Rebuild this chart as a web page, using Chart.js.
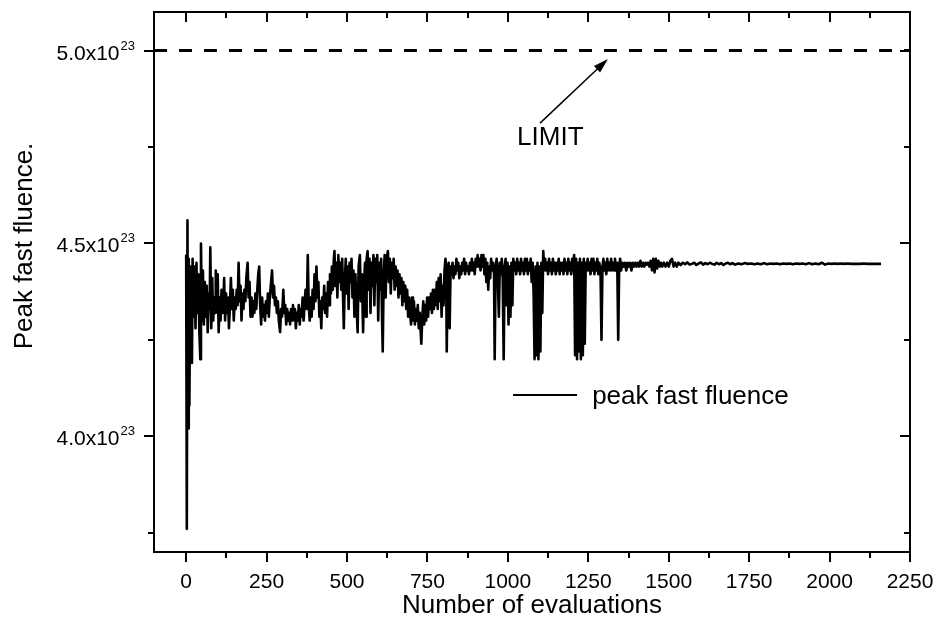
<!DOCTYPE html>
<html>
<head>
<meta charset="utf-8">
<script src="https://cdn.jsdelivr.net/npm/chart.js@4.4.1/dist/chart.umd.min.js"></script>
<style>
  html, body { margin: 0; padding: 0; background: #fff; }
  #chart { display: block; }
</style>
</head>
<body>
<canvas id="chart" width="935" height="621"></canvas>
<script>
// values in units of 1e23
// search phase (wide scatter)
const evalsEarly = [
  0,2,4,6,8,10,13,16,18,20,23,26,29,32,35,38,41,44,46,49,
  52,55,58,61,64,67,70,73,75,78,81,84,87,90,92,95,98,101,104,107,
  110,113,116,118,121,124,127,130,133,136,139,142,145,148,151,154,157,160,163,166,
  169,172,175,178,181,184,187,191,194,197,200,203,206,209,212,215,218,221,224,227,
  230,233,236,239,242,245,248,251,254,257,260,263,267,270,273,276,279,282,285,288,
  292,295,298,302,305,308,311,314,317,320,323,326,329,332,335,338,341,344,347,350,
  353,356,359,362,365,368,371,375,378,381,384,387,390,393,396,399,402,405,408,411,
  414,417,420,423,426,429,432,435,438,441,444,447,450,453,456,459,461,464,467,470,
  473,476,479,482,485,488,490,493,496,499,502,505,508,511,514,517,520,523,526,529,
  533,536,540,543,546,550,553,556,559,561,564,567,570,573,576,579,582,585,588,591,
  594,597,600,603,606,609,611,614,617,620,623,627,630,633,636,639,642,645,648,651,
  654,657,660,663,666,669,672,675,678,681,684,687,690,693,696,699,702,705,708,711,
  714,717,720,723,726,729,731,734,737,740,743,746,749,752,755,758,761,764,767,770,
  773,776,779,782,785,788,791,794,797,800,803,806,808,810,813,816,819,822
];
const fluenceEarly = [
  4.47,3.76,4.56,4.02,4.46,4.08,4.44,4.30,4.19,4.46,4.31,4.44,4.28,4.45,4.32,4.42,4.27,4.20,4.50,4.30,
  4.43,4.29,4.40,4.31,4.39,4.27,4.37,4.33,4.49,4.28,4.41,4.30,4.36,4.32,4.43,4.33,4.42,4.27,4.36,4.30,
  4.38,4.32,4.35,4.41,4.30,4.37,4.32,4.36,4.28,4.34,4.41,4.33,4.38,4.30,4.36,4.33,4.38,4.34,4.45,4.35,
  4.39,4.30,4.37,4.33,4.38,4.35,4.41,4.45,4.36,4.40,4.31,4.36,4.31,4.35,4.32,4.37,4.33,4.38,4.42,4.44,
  4.34,4.29,4.36,4.31,4.34,4.30,4.35,4.32,4.37,4.31,4.36,4.39,4.43,4.36,4.39,4.34,4.36,4.32,4.35,4.30,
  4.27,4.33,4.31,4.38,4.32,4.34,4.29,4.33,4.30,4.32,4.29,4.33,4.30,4.34,4.31,4.33,4.28,4.32,4.30,4.34,
  4.29,4.33,4.31,4.36,4.30,4.34,4.38,4.33,4.47,4.34,4.30,4.36,4.31,4.38,4.33,4.42,4.35,4.44,4.36,4.40,
  4.31,4.35,4.28,4.36,4.33,4.39,4.32,4.37,4.31,4.40,4.34,4.42,4.37,4.44,4.38,4.46,4.48,4.39,4.45,4.36,
  4.47,4.40,4.45,4.38,4.46,4.35,4.28,4.40,4.46,4.37,4.44,4.33,4.45,4.40,4.46,4.36,4.43,4.31,4.42,4.35,
  4.27,4.44,4.47,4.35,4.42,4.27,4.40,4.45,4.31,4.46,4.48,4.38,4.46,4.32,4.45,4.39,4.47,4.34,4.46,4.40,
  4.47,4.30,4.45,4.38,4.46,4.30,4.22,4.42,4.47,4.36,4.46,4.48,4.40,4.46,4.37,4.45,4.41,4.46,4.38,4.44,
  4.39,4.43,4.36,4.42,4.37,4.41,4.34,4.40,4.35,4.39,4.33,4.38,4.31,4.36,4.32,4.29,4.36,4.30,4.35,4.29,
  4.33,4.30,4.34,4.28,4.32,4.27,4.24,4.31,4.35,4.29,4.34,4.30,4.36,4.31,4.36,4.33,4.37,4.32,4.38,4.33,
  4.38,4.34,4.40,4.33,4.41,4.35,4.42,4.31,4.39,4.34,4.43,4.46,4.44,4.22,4.43,4.45,4.28,4.44
];
// settling phase (narrow band with drops)
const evalsMiddle = [
  825,828,831,834,837,840,843,846,849,852,855,858,861,864,867,870,873,876,879,882,
  885,888,891,894,897,900,903,906,909,912,915,918,921,924,927,930,933,936,939,942,
  945,948,951,954,957,959,962,965,968,972,975,978,981,984,987,990,993,996,999,1002,
  1005,1008,1011,1014,1017,1020,1023,1026,1029,1032,1035,1038,1041,1044,1047,1050,1053,1056,1059,1062,
  1065,1068,1071,1074,1077,1080,1083,1086,1089,1092,1095,1098,1101,1104,1107,1110,1113,1116,1119,1122,
  1125,1128,1131,1134,1137,1140,1143,1146,1149,1152,1155,1158,1161,1164,1167,1170,1173,1176,1179,1182,
  1185,1188,1191,1194,1197,1200,1203,1206,1209,1212,1215,1218,1221,1224,1227,1230,1233,1236,1239,1242,
  1245,1248,1251,1254,1257,1260,1263,1266,1269,1272,1275,1278,1281,1284,1288,1291,1294,1297,1300,1303,
  1306,1309,1312,1315,1318,1321,1324,1327,1330,1333,1336,1340,1343,1346,1349,1352,1356,1360,1364,1368,
  1372,1376,1380,1384,1388,1392,1396,1400
];
const fluenceMiddle = [
  4.42,4.45,4.41,4.44,4.42,4.46,4.43,4.45,4.41,4.44,4.42,4.45,4.43,4.46,4.42,4.45,4.43,4.44,4.42,4.45,
  4.43,4.46,4.43,4.45,4.42,4.46,4.44,4.47,4.44,4.46,4.43,4.47,4.44,4.47,4.42,4.46,4.40,4.45,4.38,4.44,
  4.41,4.46,4.43,4.45,4.42,4.20,4.44,4.46,4.43,4.31,4.45,4.42,4.46,4.41,4.20,4.44,4.46,4.34,4.45,4.29,
  4.44,4.31,4.45,4.34,4.46,4.43,4.45,4.42,4.46,4.43,4.45,4.42,4.46,4.43,4.45,4.42,4.46,4.43,4.46,4.42,
  4.45,4.43,4.46,4.40,4.45,4.37,4.20,4.44,4.21,4.45,4.20,4.44,4.22,4.45,4.32,4.48,4.43,4.46,4.43,4.45,
  4.42,4.46,4.43,4.45,4.42,4.46,4.43,4.45,4.42,4.45,4.43,4.46,4.42,4.45,4.43,4.45,4.42,4.46,4.43,4.45,
  4.42,4.46,4.43,4.45,4.42,4.46,4.43,4.47,4.21,4.46,4.20,4.45,4.22,4.46,4.20,4.45,4.21,4.46,4.24,4.45,
  4.43,4.46,4.43,4.45,4.42,4.46,4.43,4.46,4.42,4.45,4.43,4.46,4.42,4.45,4.43,4.25,4.44,4.46,4.43,4.45,
  4.42,4.46,4.43,4.45,4.43,4.46,4.43,4.45,4.43,4.46,4.43,4.45,4.25,4.44,4.46,4.43,4.45,4.44,4.45,4.43,
  4.45,4.44,4.45,4.43,4.45,4.44,4.45,4.44
];
// converged phase
const evalsLate = [
  1404,1408,1412,1416,1420,1424,1428,1432,1436,1440,1444,1448,1452,1456,1460,1464,1468,1472,1476,1480,
  1485,1490,1495,1500,1505,1510,1515,1520,1525,1530,1537,1544,1551,1558,1565,1572,1579,1586,1593,1600,
  1607,1614,1621,1628,1635,1642,1649,1656,1663,1670,1677,1684,1691,1698,1706,1716,1726,1736,1746,1756,
  1766,1776,1786,1796,1806,1816,1826,1836,1846,1856,1866,1876,1886,1896,1906,1916,1926,1936,1946,1956,
  1966,1976,1986,1996,2006,2016,2026,2036,2046,2056,2066,2076,2086,2096,2106,2116,2126,2136,2146,2160
];
const fluenceLate = [
  4.45,4.44,4.455,4.44,4.45,4.44,4.45,4.445,4.45,4.44,4.455,4.43,4.46,4.425,4.46,4.435,4.455,4.44,4.45,4.44,
  4.45,4.44,4.45,4.44,4.455,4.46,4.44,4.45,4.44,4.45,4.444,4.450,4.446,4.451,4.445,4.447,4.450,4.444,4.448,4.451,
  4.445,4.449,4.446,4.450,4.447,4.445,4.450,4.446,4.449,4.444,4.448,4.450,4.446,4.449,4.445,4.448,4.446,4.449,4.447,4.448,
  4.446,4.448,4.446,4.449,4.446,4.448,4.447,4.448,4.446,4.448,4.447,4.448,4.446,4.448,4.447,4.448,4.446,4.449,4.446,4.448,
  4.446,4.450,4.445,4.448,4.447,4.448,4.447,4.448,4.447,4.448,4.447,4.447,4.447,4.447,4.448,4.447,4.447,4.447,4.447,4.447
];
const limitValue = 5.0;

const xTicks = [0, 250, 500, 750, 1000, 1250, 1500, 1750, 2000, 2250];
const xMinor = [125, 375, 625, 875, 1125, 1375, 1625, 1875, 2125];
const yTicks = [4.0, 4.5, 5.0];
const yTickLabels = ['4.0x10', '4.5x10', '5.0x10'];
const yExponent = '23';
const yMinor = [3.75, 4.25, 4.75];

const evals = evalsEarly.concat(evalsMiddle, evalsLate);
const fluence = fluenceEarly.concat(fluenceMiddle, fluenceLate);
const points = evals.map((e, i) => ({ x: e, y: fluence[i] }));

const FONT = '"Liberation Sans", Arial, sans-serif';

// frame, ticks, labels and annotations drawn on the chart's own scales
const framePlugin = {
  id: 'framePlugin',
  afterDatasetsDraw(chart) {
    const ctx = chart.ctx;
    const xs = chart.scales.x;
    const ys = chart.scales.y;
    const a = chart.chartArea;
    ctx.save();
    ctx.strokeStyle = '#000';
    ctx.fillStyle = '#000';
    ctx.lineWidth = 2;
    ctx.strokeRect(a.left, a.top, a.right - a.left, a.bottom - a.top);

    ctx.beginPath();
    xTicks.forEach(v => {
      const px = Math.round(xs.getPixelForValue(v));
      ctx.moveTo(px, a.bottom); ctx.lineTo(px, a.bottom + 10);
      ctx.moveTo(px, a.top); ctx.lineTo(px, a.top + 10);
    });
    xMinor.forEach(v => {
      const px = Math.round(xs.getPixelForValue(v));
      ctx.moveTo(px, a.bottom); ctx.lineTo(px, a.bottom + 6);
      ctx.moveTo(px, a.top); ctx.lineTo(px, a.top + 6);
    });
    yTicks.forEach(v => {
      const py = Math.round(ys.getPixelForValue(v));
      ctx.moveTo(a.left, py); ctx.lineTo(a.left - 10, py);
      ctx.moveTo(a.right, py); ctx.lineTo(a.right - 10, py);
    });
    yMinor.forEach(v => {
      const py = Math.round(ys.getPixelForValue(v));
      ctx.moveTo(a.left, py); ctx.lineTo(a.left - 6, py);
      ctx.moveTo(a.right, py); ctx.lineTo(a.right - 6, py);
    });
    ctx.stroke();

    // x tick labels
    ctx.font = '21px ' + FONT;
    ctx.textAlign = 'center';
    ctx.textBaseline = 'alphabetic';
    xTicks.forEach(v => {
      ctx.fillText(String(v), xs.getPixelForValue(v), a.bottom + 36);
    });

    // y tick labels with superscript exponent
    yTicks.forEach((v, i) => {
      const py = ys.getPixelForValue(v);
      const rightEdge = a.left - 19;
      ctx.font = '13px ' + FONT;
      const supW = ctx.measureText(yExponent).width;
      ctx.textAlign = 'left';
      ctx.fillText(yExponent, rightEdge - supW, py - 1);
      ctx.font = '21px ' + FONT;
      ctx.textAlign = 'right';
      ctx.fillText(yTickLabels[i], rightEdge - supW - 1, py + 9);
    });

    // axis titles
    ctx.font = '26px ' + FONT;
    ctx.textAlign = 'center';
    ctx.fillText('Number of evaluations', (a.left + a.right) / 2, 613);
    ctx.save();
    ctx.translate(32, 246);
    ctx.rotate(-Math.PI / 2);
    ctx.fillText('Peak fast fluence.', 0, 0);
    ctx.restore();

    // LIMIT arrow
    const tx = xs.getPixelForValue(1100), ty = ys.getPixelForValue(4.812);
    const hx = xs.getPixelForValue(1311), hy = ys.getPixelForValue(4.978);
    const ang = Math.atan2(hy - ty, hx - tx);
    ctx.lineWidth = 1.5;
    ctx.beginPath();
    ctx.moveTo(tx, ty);
    ctx.lineTo(hx - 12 * Math.cos(ang), hy - 12 * Math.sin(ang));
    ctx.stroke();
    ctx.beginPath();
    ctx.moveTo(hx, hy);
    ctx.lineTo(hx - 15 * Math.cos(ang) + 4.5 * Math.sin(ang), hy - 15 * Math.sin(ang) - 4.5 * Math.cos(ang));
    ctx.lineTo(hx - 15 * Math.cos(ang) - 4.5 * Math.sin(ang), hy - 15 * Math.sin(ang) + 4.5 * Math.cos(ang));
    ctx.closePath();
    ctx.fill();

    ctx.font = '26px ' + FONT;
    ctx.textAlign = 'center';
    ctx.fillText('LIMIT', xs.getPixelForValue(1132), ys.getPixelForValue(4.755));

    // legend
    const ly = ys.getPixelForValue(4.107);
    ctx.lineWidth = 2;
    ctx.beginPath();
    ctx.moveTo(xs.getPixelForValue(1016), ly);
    ctx.lineTo(xs.getPixelForValue(1215), ly);
    ctx.stroke();
    ctx.textAlign = 'left';
    ctx.fillText('peak fast fluence', xs.getPixelForValue(1262), ly + 9);

    ctx.restore();
  }
};

new Chart(document.getElementById('chart'), {
  type: 'line',
  data: {
    datasets: [{
      label: 'peak fast fluence',
      data: points,
      borderColor: '#000',
      borderWidth: 2.6,
      borderJoinStyle: 'round',
      pointRadius: 0,
      tension: 0
    }, {
      label: 'LIMIT',
      data: [{ x: -100, y: limitValue }, { x: 2250, y: limitValue }],
      borderColor: '#000',
      borderWidth: 3,
      borderDash: [13, 12],
      pointRadius: 0
    }]
  },
  options: {
    responsive: false,
    animation: false,
    devicePixelRatio: 1,
    layout: { padding: { left: 154, right: 25, top: 12, bottom: 69 } },
    scales: {
      x: { type: 'linear', min: -100, max: 2250, display: false },
      y: { type: 'linear', min: 3.7, max: 5.1, display: false }
    },
    plugins: {
      legend: { display: false },
      tooltip: { enabled: false }
    }
  },
  plugins: [framePlugin]
});
</script>
</body>
</html>
